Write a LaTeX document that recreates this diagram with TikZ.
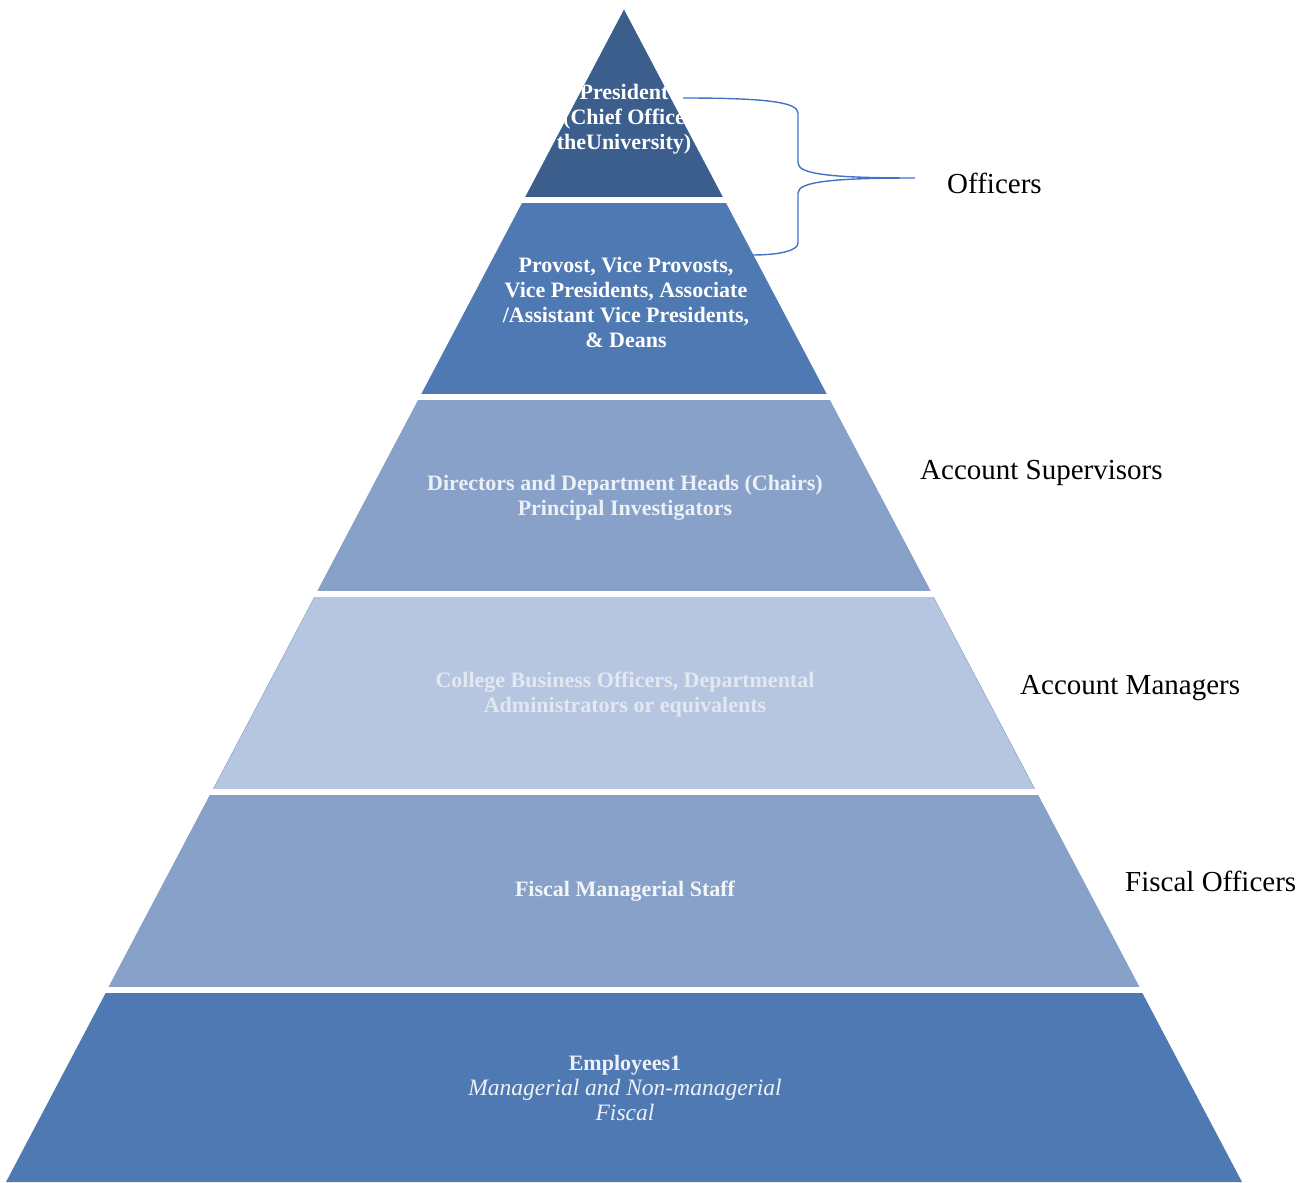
\documentclass[tikz,border=0pt]{standalone}
\usepackage{fontspec}
\setmainfont{Liberation Serif}
\usepackage{xcolor}
\usepackage{tikz}

\definecolor{tierA}{HTML}{3B5E8D}
\definecolor{tierB}{HTML}{4F79B2}
\definecolor{tierC}{HTML}{87A1C9}
\definecolor{tierD}{HTML}{B7C6E0}
\definecolor{braceblue}{HTML}{4472C4}

\begin{document}
\begin{tikzpicture}[
  x=1pt, y=-1pt,
  tier/.style={align=center, text=white, inner sep=0pt,
    font=\fontsize{22}{25}\selectfont\bfseries},
  side/.style={anchor=west, inner sep=0pt, font=\fontsize{29}{34}\selectfont},
  gap/.style={white, line width=6pt},
  brace/.style={draw=braceblue, line width=1.4pt}
]
\useasboundingbox (0,0) rectangle (1313,1182);
\fill[tierB] (624,10) -- (6,1182) -- (1242,1182) -- cycle;
\fill[tierC] (624,10) -- (107,990) -- (1141,990) -- cycle;
\fill[tierD] (624,10) -- (212,792) -- (1036,792) -- cycle;
\fill[tierC] (624,10) -- (316,594) -- (932,594) -- cycle;
\fill[tierB] (624,10) -- (420,397) -- (828,397) -- cycle;
\fill[tierA] (624,10) -- (524,200) -- (724,200) -- cycle;
\draw[gap] (0,200) -- (1313,200);
\draw[gap] (0,397) -- (1313,397);
\draw[gap] (0,594) -- (1313,594);
\draw[gap] (0,792) -- (1313,792);
\draw[gap] (0,990) -- (1313,990);

\begin{scope}
\clip (624,10) -- (521,203) -- (727,203) -- cycle;
\node[tier] (pres) at (624,119) {President\\(Chief Office\\theUniversity)};
\end{scope}
\node[tier] (provost) at (626,302) {Provost, Vice Provosts,\\Vice Presidents, Associate\\/Assistant Vice Presidents,\\\& Deans};
\node[tier, text opacity=0.85] (directors) at (625,498) {Directors and Department Heads (Chairs)\\Principal Investigators};
\node[tier, text opacity=0.6] (college) at (625,695) {College Business Officers, Departmental\\Administrators or equivalents};
\node[tier, text opacity=0.9] (staff) at (625,891) {Fiscal Managerial Staff};
\node[tier, text opacity=0.9] (employees) at (625,1088) {Employees1\\{\mdseries\itshape\fontsize{23.5}{25}\selectfont Managerial and Non-managerial}\\{\mdseries\itshape\fontsize{23.5}{25}\selectfont Fiscal}};

\node[side] (officers) at (947,183) {Officers};
\node[side] (supervisors) at (920,473) {Account Supervisors};
\node[side] (managers) at (1020,688) {Account Managers};
\node[side] (fiscal) at (1125,881) {Fiscal Officers};

\coordinate (bracetop) at (683,98);
\coordinate (bracetip) at (915,178);
\coordinate (bracebot) at (752,255);
\draw[brace] (bracetop) .. controls (765,98) and (798,102) .. (798,113) -- (798,163)
  .. controls (798,174) and (830,178) .. (bracetip)
  .. controls (830,178) and (798,182) .. (798,193) -- (798,243)
  .. controls (798,250) and (782,255) .. (bracebot);
\end{tikzpicture}
\end{document}
